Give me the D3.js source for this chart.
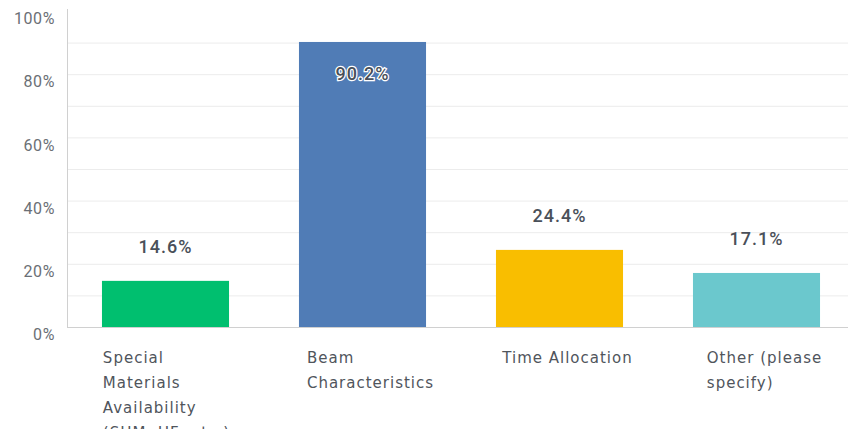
<!DOCTYPE html>
<html><head><meta charset="utf-8">
<script src="https://cdn.jsdelivr.net/npm/d3@7/dist/d3.min.js"></script>
<style>
body{margin:0;background:#fff;}
svg{display:block;}
</style></head>
<body>
<svg id="c" width="848" height="429"></svg>
<script>
const categories = ["Special Materials Availability (SHM, UF, etc.)", "Beam Characteristics", "Time Allocation", "Other (please specify)"];
const categoryLines = [["Special","Materials","Availability","(SHM, UF, etc.)"],["Beam","Characteristics"],["Time Allocation"],["Other (please","specify)"]];
const values = [14.6, 90.2, 24.4, 17.1];
const colors = ["#00bf6f", "#507cb6", "#f9be00", "#6bc8cd"];
const tickValues = [0, 20, 40, 60, 80, 100];
const gridValues = [10, 20, 30, 40, 50, 60, 70, 80, 90];

(function () {
const svg = d3.select("#c");
const plotLeft = 67, plotBottom = 327, plotTop = 11;
const y = d3.scaleLinear().domain([0, 100]).range([plotBottom, plotTop]);
const x = d3.scaleBand().domain(categories).range([plotLeft, 855]).paddingInner(0.355).paddingOuter(0.1775);

svg.append("g").selectAll("line").data(gridValues).join("line")
  .attr("x1", plotLeft).attr("x2", 848)
  .attr("y1", d => y(d) + 0.5).attr("y2", d => y(d) + 0.5)
  .attr("stroke", "#ececec").attr("stroke-width", 1);

svg.append("line").attr("x1", plotLeft + 0.5).attr("x2", plotLeft + 0.5).attr("y1", 9).attr("y2", plotBottom)
  .attr("stroke", "#d0d0d0");
svg.append("line").attr("x1", plotLeft).attr("x2", 848).attr("y1", plotBottom + 0.5).attr("y2", plotBottom + 0.5)
  .attr("stroke", "#d0d0d0");

svg.append("g").selectAll("text").data(tickValues).join("text")
  .attr("x", 55).attr("y", d => y(d) + 9)
  .attr("text-anchor", "end").attr("dominant-baseline", "middle")
  .attr("font-family", "Roboto, sans-serif").attr("font-size", 16)
  .attr("letter-spacing", 0.6)
  .attr("fill", "#6b6f75")
  .text(d => d + "%");

svg.append("g").selectAll("rect").data(values).join("rect")
  .attr("x", (d, i) => x(categories[i])).attr("width", x.bandwidth())
  .attr("y", d => y(d)).attr("height", d => plotBottom - y(d))
  .attr("fill", (d, i) => colors[i]);

svg.append("g").selectAll("text").data(values).join("text")
  .attr("x", (d, i) => x(categories[i]) + x.bandwidth() / 2)
  .attr("y", d => d > 80 ? y(d) + 33 : y(d) - 33)
  .attr("text-anchor", "middle").attr("dominant-baseline", "middle")
  .attr("font-family", "Roboto, sans-serif").attr("font-size", 18).attr("font-weight", 500)
  .attr("letter-spacing", 1)
  .attr("fill", "#4a5059")
  .attr("stroke", d => d > 80 ? "#ffffff" : "none").attr("stroke-width", 2.5)
  .attr("paint-order", "stroke")
  .text(d => d.toFixed(1) + "%");

const lab = svg.append("g");
categoryLines.forEach((lines, i) => {
  const cx = x(categories[i]) + x.bandwidth() / 2 + (i === 0 ? 1 : 8);
  const t = lab.append("text")
    .attr("font-family", "'DejaVu Sans', sans-serif").attr("font-size", 15)
    .attr("letter-spacing", 1)
    .attr("fill", "#50555c");
  lines.forEach((ln, j) => {
    t.append("tspan").attr("y", 358 + j * 25).attr("dominant-baseline", "middle").text(ln);
  });
  let w = 0;
  t.selectAll("tspan").each(function () { w = Math.max(w, this.getComputedTextLength()); });
  t.selectAll("tspan").attr("x", cx - w / 2);
});
})();
</script>
</body></html>
